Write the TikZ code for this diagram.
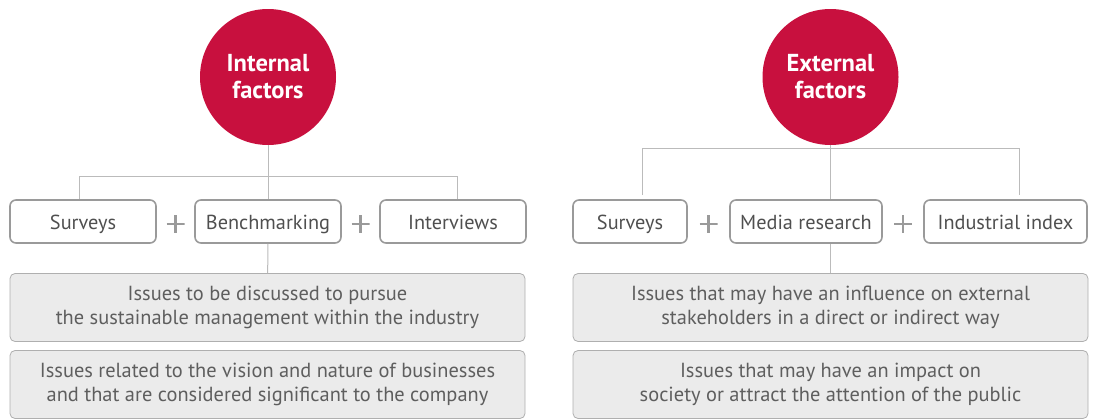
\documentclass[tikz,border=0pt]{standalone}
\usepackage{fontspec}
\setmainfont{PT Sans}
\begin{document}
\begin{tikzpicture}[x=1pt,y=-1pt,
  circ/.style={circle,fill=crim,minimum size=136pt,inner sep=0pt,text=white,font=\bfseries\fontsize{24.5}{27}\selectfont,align=center},
  srcbox/.style={draw=boxgray,line width=1.6pt,rounded corners=6pt,minimum height=43pt,inner sep=0pt,text=txtgray,font=\fontsize{20.3}{23}\selectfont,text height=18pt,text depth=2pt},
  issuebox/.style={draw=issueborder,line width=0.8pt,fill=issuefill,rounded corners=5pt,minimum width=515pt,minimum height=68pt,inner sep=0pt,text=issuetxt,font=\fontsize{20.4}{24.5}\selectfont,align=center},
  conn/.style={draw=linegray,line width=1pt},
  plus/.style={minimum size=18pt,inner sep=0pt,path picture={
     \draw[boxgray,line width=2.4pt] (path picture bounding box.west) -- (path picture bounding box.east)
        (path picture bounding box.north) -- (path picture bounding box.south);}}
]
\definecolor{crim}{HTML}{C8103E}
\definecolor{boxgray}{HTML}{9A9A9A}
\definecolor{txtgray}{HTML}{4F4F4F}
\definecolor{issueborder}{HTML}{AFAFAF}
\definecolor{issuefill}{HTML}{EBEBEB}
\definecolor{issuetxt}{HTML}{5E5E5E}
\definecolor{linegray}{HTML}{BBBBBB}
\useasboundingbox (0,0) rectangle (1095,418);

% ---- left group ----
\node[circ] (L) at (268,77) {Internal\\factors};
\node[srcbox,minimum width=146pt] (LS) at (83,221.5) {Surveys};
\node[srcbox,minimum width=146pt] (LB) at (268,221.5) {Benchmarking};
\node[srcbox,minimum width=146pt] (LI) at (453,221.5) {Interviews};
\node[plus] (LP1) at (175.5,224) {};
\node[plus] (LP2) at (360.5,224) {};
\node[issuebox] (LX1) at (267.5,307.5) {Issues to be discussed to pursue\\the sustainable management within the industry};
\node[issuebox] (LX2) at (267.5,384.5) {Issues related to the vision and nature of businesses\\and that are considered significant to the company};
\coordinate (lb1) at (79,176);
\coordinate (lb2) at (457,176);
\draw[conn] (L) -- (LB);
\draw[conn] (LS.north -| lb1) -- (lb1) -- (lb2) -- (LI.north -| lb2);
\draw[conn] (LB) -- (LX1);

% ---- right group ----
\node[circ] (R) at (830.5,77) {External\\factors};
\node[srcbox,minimum width=114pt] (RS) at (630,221.5) {Surveys};
\node[srcbox,minimum width=152pt] (RM) at (806,221.5) {Media research};
\node[srcbox,minimum width=163pt] (RI) at (1005.5,221.5) {Industrial index};
\node[plus] (RP1) at (708.5,224) {};
\node[plus] (RP2) at (903,224) {};
\node[issuebox] (RX1) at (830.5,307.5) {Issues that may have an influence on external\\stakeholders in a direct or indirect way};
\node[issuebox] (RX2) at (830.5,384.5) {Issues that may have an impact on\\society or attract the attention of the public};
\coordinate (rb1) at (642,148);
\coordinate (rb2) at (1019,148);
\coordinate (rt1) at (642,195);
\coordinate (rt2) at (1019,195);
\draw[conn] (R) -- (R |- RM.north);
\draw[conn] (rt1) -- (rb1) -- (rb2) -- (rt2);
\draw[conn] (R |- RM.south) -- (R |- RX1.north);
\end{tikzpicture}
\end{document}
